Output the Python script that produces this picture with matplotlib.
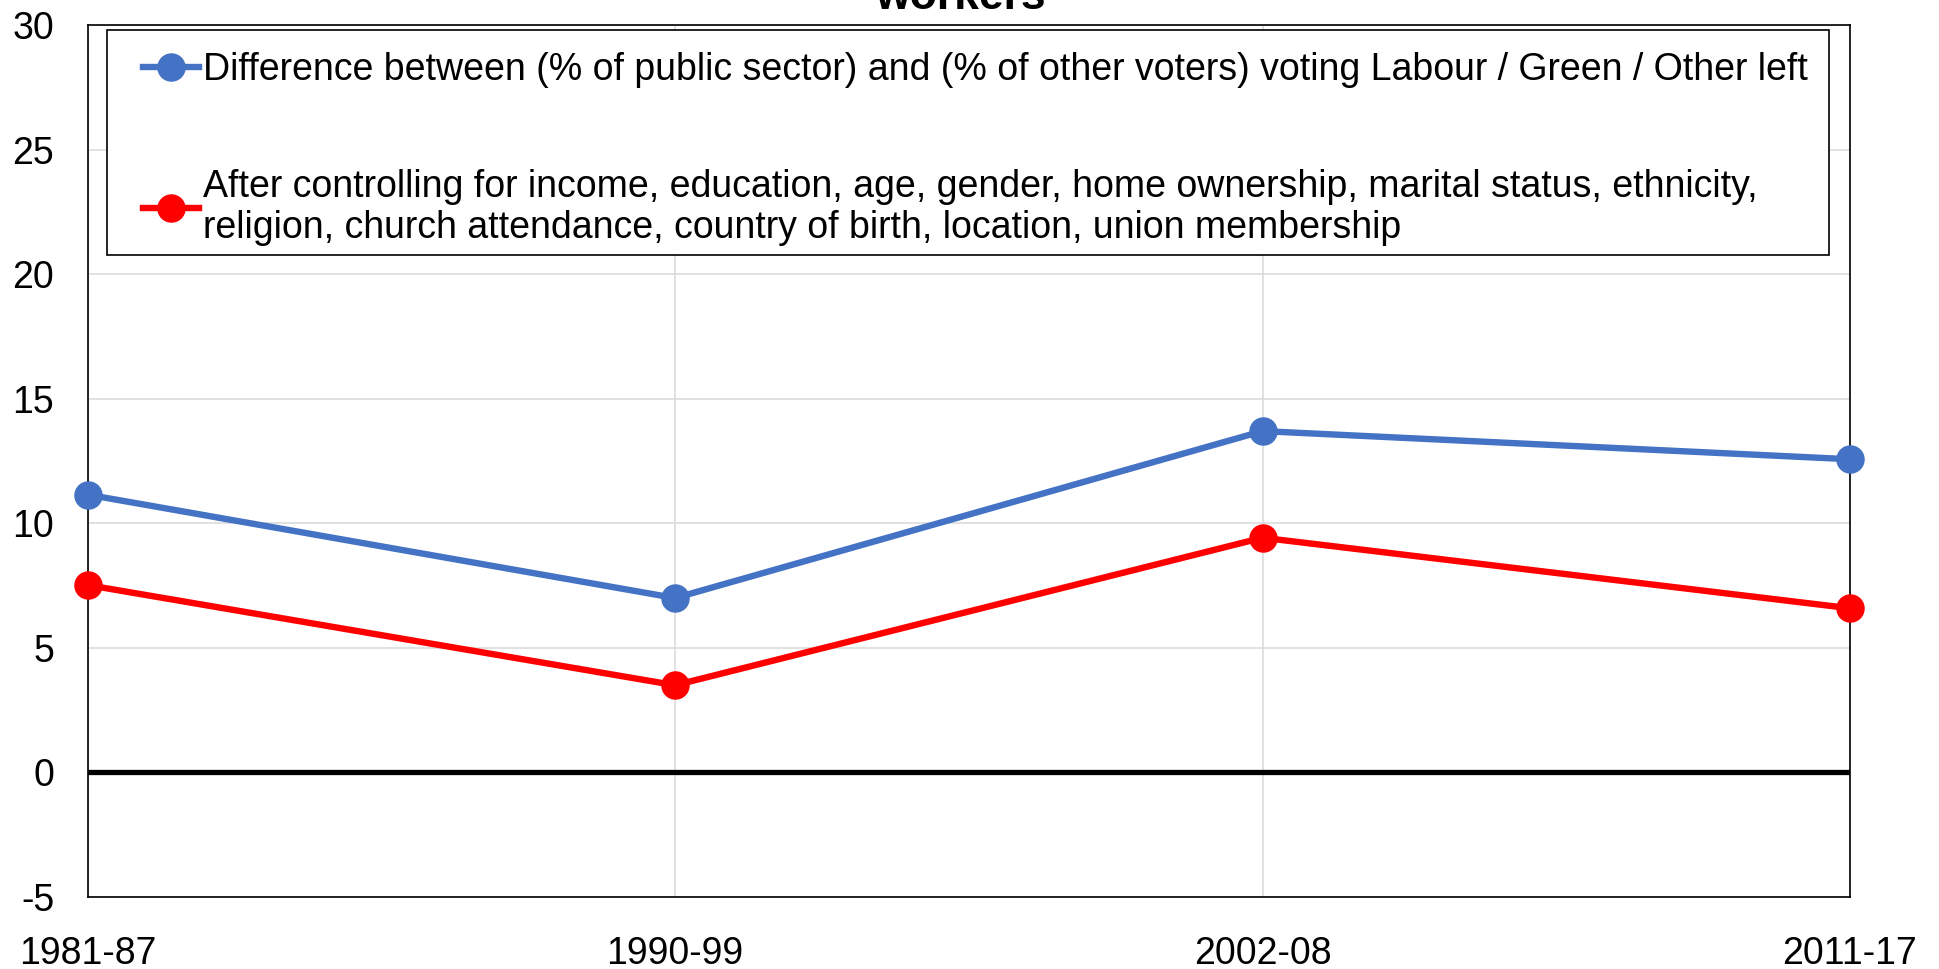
import matplotlib
matplotlib.use("Agg")
import matplotlib.pyplot as plt
from matplotlib.patches import Rectangle

# values
periods = ["1981-87", "1990-99", "2002-08", "2011-17"]
raw_gap = [11.15, 7.0, 13.7, 12.57]
controlled_gap = [7.52, 3.5, 9.42, 6.59]

raw_label = ("Difference between (% of public sector) and (% of other voters) "
             "voting Labour / Green / Other left")
controlled_label = ("After controlling for income, education, age, gender, home ownership, "
                    "marital status, ethnicity,\nreligion, church attendance, country of birth, "
                    "location, union membership")

plt.rcParams["font.family"] = ["Liberation Sans", "DejaVu Sans"]
plt.rcParams["font.size"] = 27
plt.rcParams["axes.unicode_minus"] = False

W, H = 1939, 969
fig = plt.figure(figsize=(W / 100, H / 100), dpi=100)
ax = fig.add_axes([0.0452, 0.0743, 0.9089, 0.8999])

x = list(range(len(periods)))
ax.plot(x, raw_gap, color="#4472c4", lw=4.6, marker="o", ms=19.5,
        label=raw_label, zorder=4, clip_on=False)
ax.plot(x, controlled_gap, color="#ff0000", lw=4.6, marker="o", ms=19.5,
        label=controlled_label, zorder=4, clip_on=False)
ax.axhline(0, color="black", lw=3.8, zorder=3)

ax.set_xlim(0, len(periods) - 1)
ax.set_ylim(-5, 30)
ax.set_yticks(range(-5, 31, 5))
ax.set_xticks(x)
ax.set_xticklabels(periods)
ax.grid(True, color="#d9d9d9", lw=1.1, zorder=0)
ax.set_axisbelow(True)
ax.tick_params(axis="both", length=0)
ax.tick_params(axis="y", pad=24)
ax.tick_params(axis="x", pad=28)
for sp in ax.spines.values():
    sp.set_color("black")
    sp.set_linewidth(1.2)

# legend without its own frame; the box is drawn separately to match the original size
leg = ax.legend(loc="upper left", bbox_to_anchor=(143 / W, 1 - 52 / H),
                bbox_transform=fig.transFigure, frameon=False, borderpad=0,
                borderaxespad=0, labelspacing=2.15, handlelength=1.5,
                handletextpad=0.1)
for t in leg.get_texts():
    t.set_linespacing(1.18)
leg.set_zorder(7)
box = Rectangle((107 / W, 1 - 255 / H), (1829 - 107) / W, 225 / H,
                transform=fig.transFigure, facecolor="white",
                edgecolor="black", lw=1.2, zorder=6, clip_on=False)
ax.add_patch(box)

# only the last line of the title is visible in the original
fig.text(960 / W, 1 - 9 / H, "workers", ha="center", va="baseline",
         fontweight="bold", fontsize=32)

fig.savefig("out.png", dpi=100)
